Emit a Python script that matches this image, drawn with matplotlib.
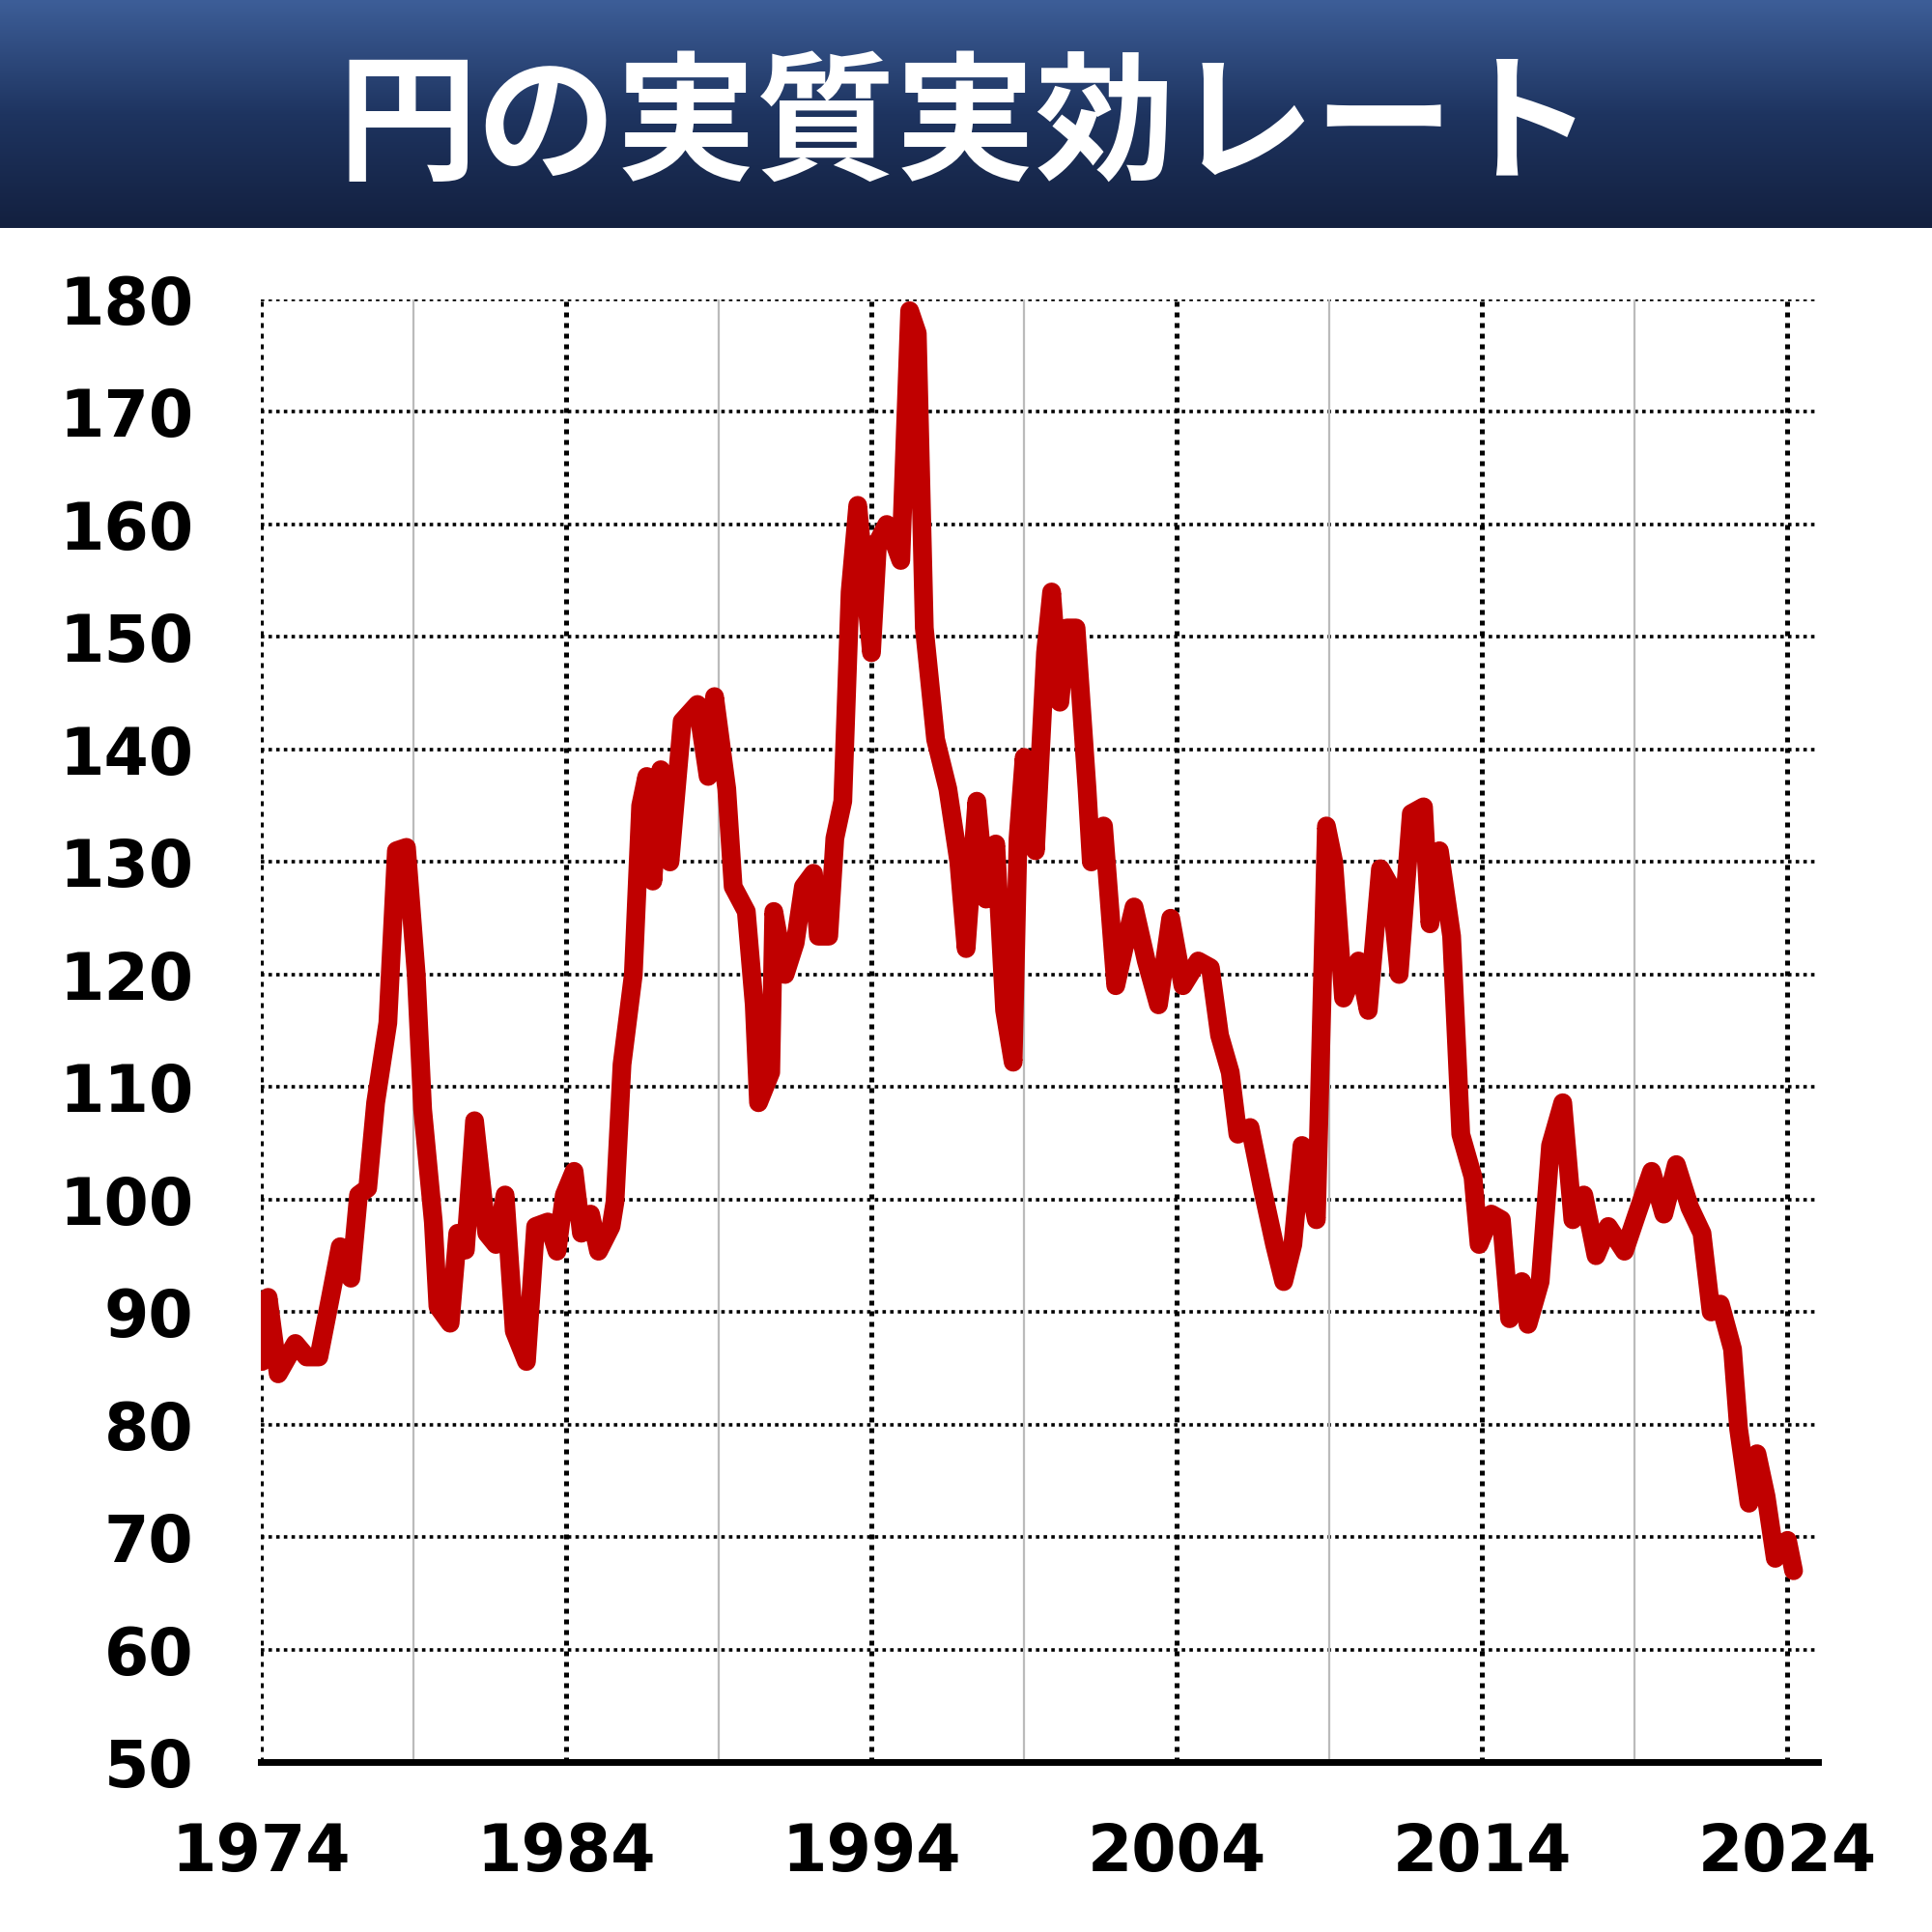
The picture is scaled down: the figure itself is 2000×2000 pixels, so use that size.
import matplotlib
matplotlib.use("Agg")
import matplotlib.pyplot as plt
import numpy as np
from matplotlib.colors import LinearSegmentedColormap

years = [1974.04,1974.24,1974.57,1975.13,1975.5,1975.9,1976.26,1976.6,1976.95,1977.2,1977.5,1977.76,1978.16,1978.44,1978.77,1979.09,1979.3,1979.65,1979.8,1980.2,1980.45,1980.7,1981.0,1981.4,1981.7,1982.0,1982.3,1982.7,1983.0,1983.4,1983.7,1983.94,1984.26,1984.5,1984.8,1985.06,1985.47,1985.6,1985.83,1986.2,1986.44,1986.64,1986.84,1987.1,1987.4,1987.8,1988.3,1988.65,1988.86,1989.26,1989.47,1989.9,1990.16,1990.3,1990.7,1990.8,1991.17,1991.5,1991.77,1992.1,1992.26,1992.6,1992.8,1993.06,1993.3,1993.55,1994.0,1994.2,1994.5,1994.8,1994.96,1995.25,1995.5,1995.73,1996.1,1996.5,1996.86,1997.1,1997.45,1997.75,1998.07,1998.36,1998.64,1998.8,1999.0,1999.37,1999.7,1999.9,2000.17,2000.4,2000.7,2001.06,2001.2,2001.6,2002.0,2002.27,2002.6,2003.0,2003.4,2003.8,2004.2,2004.7,2005.1,2005.4,2005.75,2006.0,2006.4,2006.8,2007.2,2007.5,2007.8,2008.1,2008.57,2008.9,2009.14,2009.46,2009.95,2010.27,2010.67,2011.0,2011.28,2011.68,2012.08,2012.29,2012.6,2013.0,2013.3,2013.7,2013.9,2014.3,2014.63,2014.9,2015.3,2015.5,2015.9,2016.24,2016.64,2016.97,2017.33,2017.73,2018.13,2018.66,2019.07,2019.55,2019.95,2020.36,2020.8,2021.2,2021.5,2021.8,2022.2,2022.4,2022.74,2023.0,2023.3,2023.6,2024.0,2024.2]
values = [85.6,91.3,84.5,87.2,86,86,91,95.8,93,100.4,101,108.6,115.7,131,131.3,120,108,98,90.5,89,97,95.5,107,97,96,100.4,88.3,85.6,97.6,98,95.4,100.4,102.5,97,98.7,95.4,97.6,99.8,112,120,135,137.6,128.3,138.2,130,142.5,144,137.6,144.7,136.5,127.8,125.6,117.3,108.6,111.3,125.6,120,122.8,127.8,129,123.4,123.4,132.1,135.4,154,161.7,148.6,158.4,160,158,156.8,179,177,150.8,140.9,136.5,130,122.3,135.4,126.7,131.6,116.8,112.2,132.1,139.3,131,148.6,154,144.2,150.8,150.8,136.5,130,133.2,119,122.3,126,121.2,117.3,125,119,121.2,120.6,114.6,111.3,105.8,106.4,101,96,92.7,96,104.8,98.2,133.2,130,117.9,121.2,116.8,129.4,127.8,120,134.3,134.9,124.5,131,123.4,105.8,102,96,98.7,98.2,89.4,92.7,88.9,92.7,104.8,108.6,98.2,100.4,95,97.6,95.4,98.7,102.5,98.7,103.1,99.3,97,90,90.7,86.7,79.6,73,77.4,73.6,68.1,69.7,67]
title = "円の実質実効レート"
major_years = [1974, 1984, 1994, 2004, 2014, 2024]
minor_years = [1979, 1989, 1999, 2009, 2019]
yticks = list(range(50, 181, 10))

plt.rcParams['font.family'] = ['Noto Sans CJK JP', 'DejaVu Sans']
fig = plt.figure(figsize=(10, 10), dpi=200)

bax = fig.add_axes([0, 1-0.118, 1, 0.118])
grad = np.linspace(0, 1, 256).reshape(-1, 1)
cmap = LinearSegmentedColormap.from_list("b", ["#3d5e98", "#1e3460", "#13203f"])
bax.imshow(grad, aspect='auto', cmap=cmap, extent=[0, 1, 0, 1])
bax.set_axis_off()
bax.text(0.5, 0.44, title, color='white', fontsize=52, fontweight='bold',
         ha='center', va='center', transform=bax.transAxes)

ax = fig.add_axes([0.135, 0.088, 0.941-0.135, 0.845-0.088])
ax.set_xlim(1974, 2025)
ax.set_ylim(50, 180)
for y in yticks[1:]:
    ax.axhline(y, color='black', lw=1.3, ls=(0, (1, 1.2)), zorder=1)
for x in major_years:
    ax.axvline(x, color='black', lw=1.8, ls=(0, (1, 1.2)), zorder=1)
for x in minor_years:
    ax.axvline(x, color='#bbbbbb', lw=0.8, zorder=1)
ax.plot(years, values, color='#c00000', lw=7, solid_joinstyle='round',
        solid_capstyle='round', zorder=3)
for s in ['left', 'right', 'top']:
    ax.spines[s].set_visible(False)
ax.spines['bottom'].set_linewidth(2.5)
ax.set_xticks(major_years)
ax.set_xticklabels([str(y) for y in major_years])
ax.set_yticks(yticks)
ax.tick_params(length=0, labelsize=24)
for lab in ax.get_xticklabels() + ax.get_yticklabels():
    lab.set_fontweight('bold')
    lab.set_family(['DejaVu Sans'])
ax.tick_params(axis='x', pad=22)
ax.tick_params(axis='y', pad=25)
fig.savefig("out.png", dpi=200)
